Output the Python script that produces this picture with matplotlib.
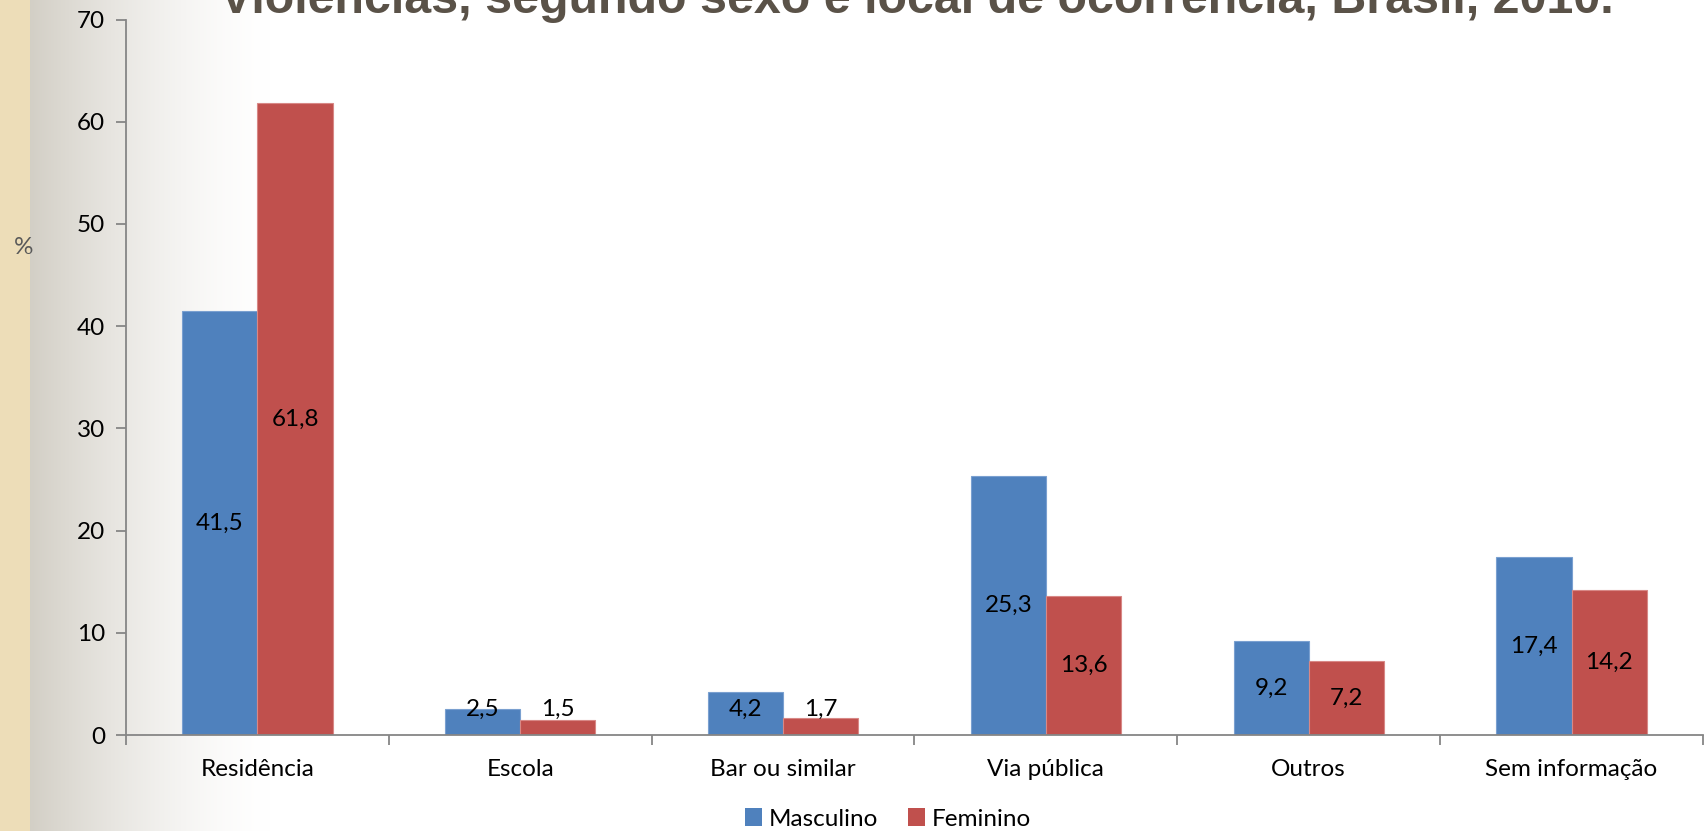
import numpy as np
import matplotlib
matplotlib.use("Agg")
import matplotlib.pyplot as plt
from matplotlib.patches import Patch

plt.rcParams['font.family'] = ['Lato', 'DejaVu Sans']

locais = ["Residência", "Escola", "Bar ou similar", "Via pública", "Outros", "Sem informação"]
masculino = [41.5, 2.5, 4.2, 25.3, 9.2, 17.4]
feminino = [61.8, 1.5, 1.7, 13.6, 7.2, 14.2]
yticks = [0, 10, 20, 30, 40, 50, 60, 70]

azul = "#4F81BD"
vermelho = "#C0504D"
fs = 17.5

W, H = 1708, 831
fig = plt.figure(figsize=(W / 100, H / 100), dpi=100)

# fundo: faixa de pergaminho + degradê cinza até o branco
bg = fig.add_axes([0, 0, 1, 1], zorder=-10)
xs = np.arange(W)
t = np.clip((xs - 30) / 240.0, 0, 1)
t = 1 - (1 - t) ** 1.5
cinza = np.array([0.827, 0.812, 0.776])
row = cinza[None, :] * (1 - t[:, None]) + t[:, None]
row[xs < 30] = np.array([0.933, 0.867, 0.725])
img = np.repeat(row[None, :, :], 2, axis=0)
bg.imshow(img, aspect='auto', extent=[0, W, 0, H])
bg.set_xlim(0, W)
bg.set_ylim(0, H)
bg.axis('off')

ax = fig.add_axes([126 / W, 1 - 735 / H, (1703 - 126) / W, (735 - 19.5) / H])
ax.set_facecolor('none')

x = np.arange(len(locais))
largura = 0.286
ax.bar(x - largura / 2, masculino, largura, color=azul, edgecolor="#7aa0d0", linewidth=0.8)
ax.bar(x + largura / 2, feminino, largura, color=vermelho, edgecolor="#d88886", linewidth=0.8)

# rótulos de valor centrados na barra (mínimo logo acima do eixo)
for serie, xpos in ((masculino, x - largura / 2), (feminino, x + largura / 2)):
    for xi, v in zip(xpos, serie):
        ax.text(xi, max(v / 2, 2.55), f"{v:.1f}".replace(".", ","),
                ha='center', va='center', fontsize=fs, color='black')

ax.set_xlim(-0.5, len(locais) - 0.5)
ax.set_ylim(0, 70)
ax.set_yticks(yticks)
ax.set_xticks(x)
ax.set_xticklabels(locais)
ax.set_xticks(np.arange(-0.5, len(locais)), minor=True)
ax.tick_params(axis='x', which='major', length=0, pad=17, labelsize=fs)
ax.tick_params(axis='x', which='minor', length=7, width=1.3, color="#868686")
ax.tick_params(axis='y', length=7, width=1.3, color="#868686", pad=8, labelsize=fs)

for lado in ('top', 'right'):
    ax.spines[lado].set_visible(False)
for lado in ('left', 'bottom'):
    ax.spines[lado].set_color("#868686")
    ax.spines[lado].set_linewidth(1.3)

fig.text(24 / W, 1 - 248 / H, "%", fontsize=fs, color="#595959", ha='center', va='center')

fig.text(917 / W, 1 - 13 / H, "Violências, segundo sexo e local de ocorrência, Brasil, 2010.",
         family='Liberation Sans', fontweight='bold', fontsize=34.8, color="#5a5248",
         ha='center', va='baseline')

handles = [Patch(facecolor=azul, label="Masculino"), Patch(facecolor=vermelho, label="Feminino")]
fig.legend(handles=handles, loc='center', bbox_to_anchor=(888 / W, 1 - 819 / H), ncol=2,
           frameon=False, fontsize=fs, handlelength=0.7, handleheight=0.7,
           handletextpad=0.3, columnspacing=1.2, borderpad=0)

fig.savefig("out.png", dpi=100)
